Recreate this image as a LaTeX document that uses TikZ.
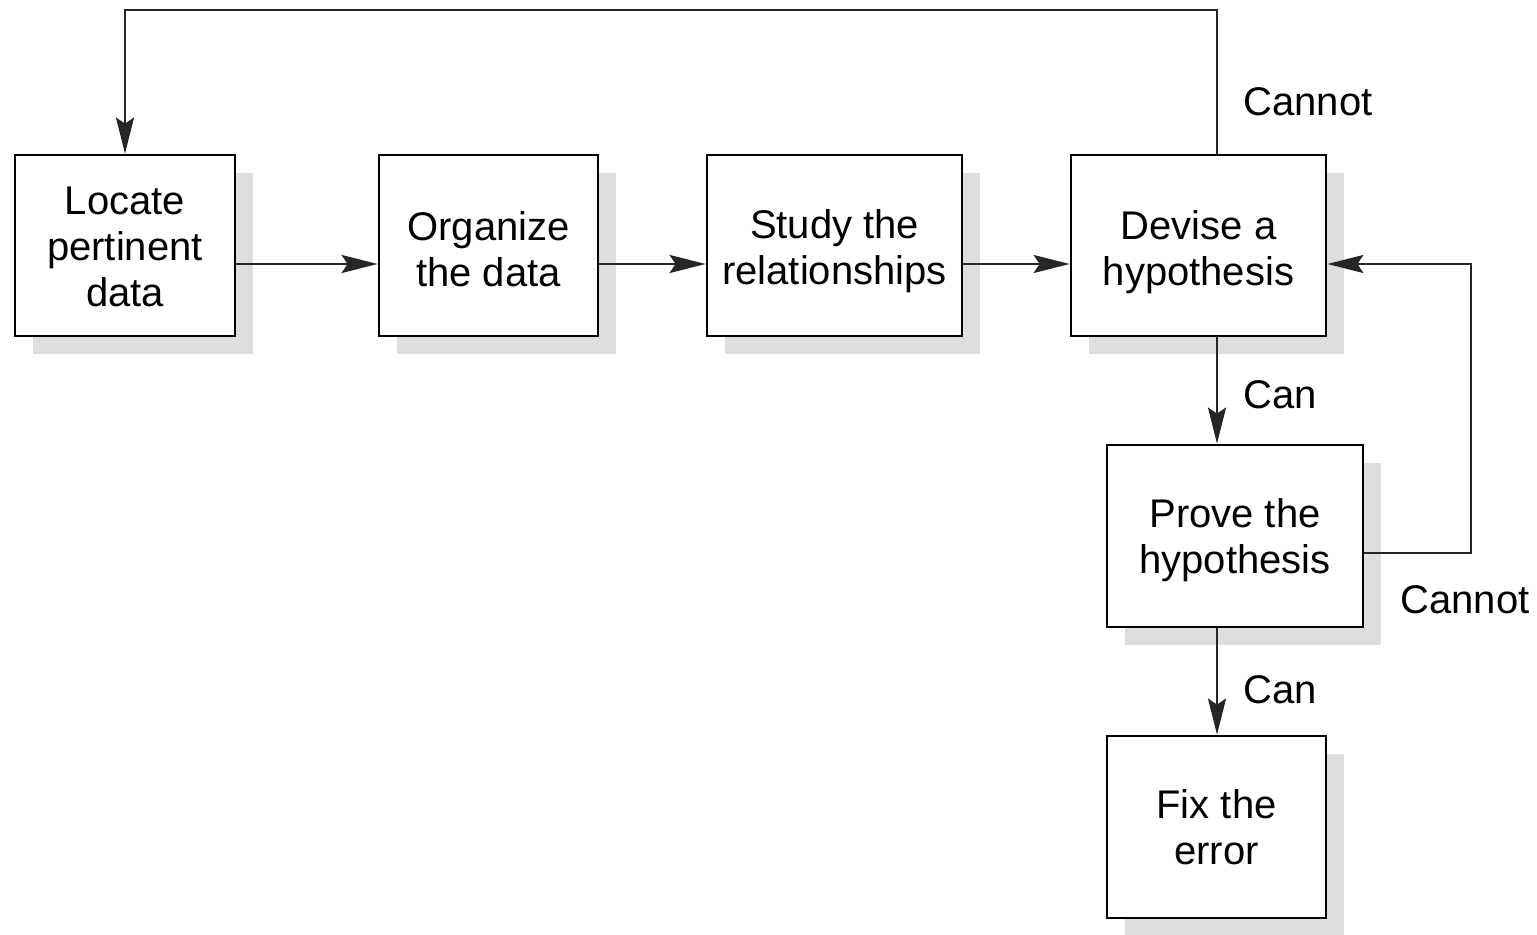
\documentclass[tikz,border=0pt]{standalone}
\usepackage{fontspec}
\setmainfont{Liberation Sans}
\usetikzlibrary{arrows.meta,shadows}
\newcommand{\lt}[1][20.5pt]{\rule{0pt}{#1}}
\newcommand{\lb}{\rule[-2.5pt]{0pt}{2.5pt}}
\begin{document}
\begin{tikzpicture}[x=0.5pt,y=-0.5pt,
  box/.style={draw=black, line width=1.4pt, fill=white, align=center, inner sep=0pt,
    minimum height=90.5pt,
    font=\fontsize{20}{23}\selectfont,
    drop shadow={shadow xshift=9pt, shadow yshift=-9pt, fill=black!13, opacity=1}},
  conn/.style={line width=1.2pt, draw=black!85, -{Stealth[length=18pt,width=9pt,inset=3pt]}},
  lbl/.style={font=\fontsize{20}{23}\selectfont, inner sep=0pt, anchor=west}
]
\useasboundingbox (0,0) rectangle (1537,935);
\node[box, minimum width=110pt] (loc) at (125,245.5) {\lt[17.5pt]Locate\\pertinent\\data\lb};
\node[box, minimum width=109.5pt] (org) at (488.5,245.5) {\lt Organize\\the data\lb};
\node[box, minimum width=127.5pt] (stu) at (834.5,245.5) {\lt Study the\\relationships\lb};
\node[box, minimum width=127.5pt] (dev) at (1198.5,245.5) {\lt[21.5pt]Devise a\\hypothesis\lb};
\node[box, minimum width=128pt, minimum height=91pt] (pro) at (1235,536) {\lt[18.5pt]Prove the\\hypothesis\lb};
\node[box, minimum width=109.5pt, minimum height=91pt] (fix) at (1216.5,827) {\lt[16.5pt]Fix the\\error\lb};

\coordinate (top1) at (1217,10);
\coordinate (top2) at (125,10);
\coordinate (rt1) at (1471,553);
\coordinate (rt2) at (1471,264);

\draw[conn] (loc.east |- 0,264) -- (org.west |- 0,264);
\draw[conn] (org.east |- 0,264) -- (stu.west |- 0,264);
\draw[conn] (stu.east |- 0,264) -- (dev.west |- 0,264);
\draw[conn] (dev.south -| top1) -- (pro.north -| top1);
\draw[conn] (pro.south -| top1) -- (fix.north -| top1);
\draw[conn] (pro.east |- rt1) -- (rt1) -- (rt2) -- (dev.east |- rt2);
\draw[conn] (dev.north -| top1) -- (top1) -- (top2) -- (loc.north);

\node[lbl] (c1) at (1243,102) {Cannot};
\node[lbl] (c2) at (1243,395) {Can};
\node[lbl] (c3) at (1400,600) {Cannot};
\node[lbl] (c4) at (1243,690) {Can};
\end{tikzpicture}
\end{document}
